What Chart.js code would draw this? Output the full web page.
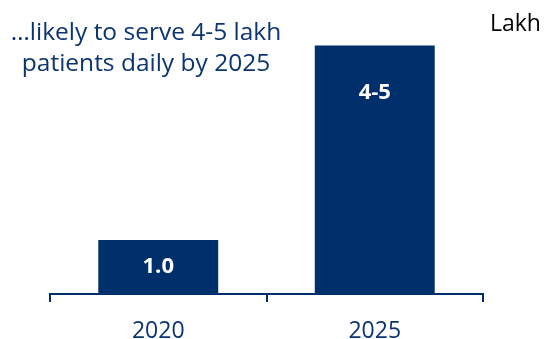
<!DOCTYPE html>
<html lang="en">
<head>
    <meta charset="UTF-8">
    <title>Patients per day</title>
    <script src="https://cdn.jsdelivr.net/npm/chart.js"></script>
    <style>
        html, body { margin: 0; padding: 0; background: #fff; }
        #wrap { width: 545px; height: 339px; }
    </style>
</head>
<body>
    <div id="wrap"><canvas id="chart"></canvas></div>
    <script>
        // data
        const years = ['2020', '2025'];
        const patients = [1.0, 4.6];          // bar heights
        const valueLabels = ['1.0', '4-5'];
        const titleLines = ['\u2026likely to serve 4-5 lakh', 'patients daily by 2025'];
        const unitText = 'Lakh';

        const navy = '#00306B';
        const fontFamily = "'Open Sans', sans-serif";

        // texts drawn on top of the chart
        const textPlugin = {
            id: 'texts',
            afterDatasetsDraw(chart) {
                const ctx = chart.ctx;
                ctx.save();
                // bar values
                ctx.fillStyle = '#fff';
                ctx.font = 'bold 22px ' + fontFamily;
                ctx.textAlign = 'center';
                ctx.textBaseline = 'middle';
                chart.getDatasetMeta(0).data.forEach((bar, i) => {
                    const h = bar.base - bar.y;
                    ctx.fillText(valueLabels[i], bar.x, bar.y + Math.min(h / 2, 47));
                });
                // title
                ctx.fillStyle = '#0B3570';
                ctx.font = '24.5px ' + fontFamily;
                titleLines.forEach((line, i) => ctx.fillText(line, 146, 33 + i * 31));
                // unit
                ctx.fillStyle = '#000';
                ctx.font = '23px ' + fontFamily;
                ctx.textAlign = 'left';
                ctx.fillText(unitText, 490, 24);
                ctx.restore();
            }
        };

        new Chart(document.getElementById('chart'), {
            type: 'bar',
            data: {
                labels: years,
                datasets: [{
                    data: patients,
                    backgroundColor: navy,
                    categoryPercentage: 1.0,
                    barPercentage: 0.554
                }]
            },
            options: {
                responsive: true,
                maintainAspectRatio: false,
                animation: false,
                layout: { padding: { left: 50, right: 62, top: 24, bottom: 0 } },
                plugins: { legend: { display: false }, tooltip: { enabled: false } },
                scales: {
                    y: { display: false, min: 0, max: 5 },
                    x: {
                        afterFit: s => { s.height = 45; },
                        border: { color: navy, width: 2 },
                        grid: {
                            offset: true,
                            drawOnChartArea: false,
                            color: navy,
                            lineWidth: 2,
                            tickLength: 8
                        },
                        ticks: {
                            color: '#0B3570',
                            font: { family: fontFamily, size: 23 },
                            padding: 16
                        }
                    }
                }
            },
            plugins: [textPlugin]
        });
    </script>
</body>
</html>
